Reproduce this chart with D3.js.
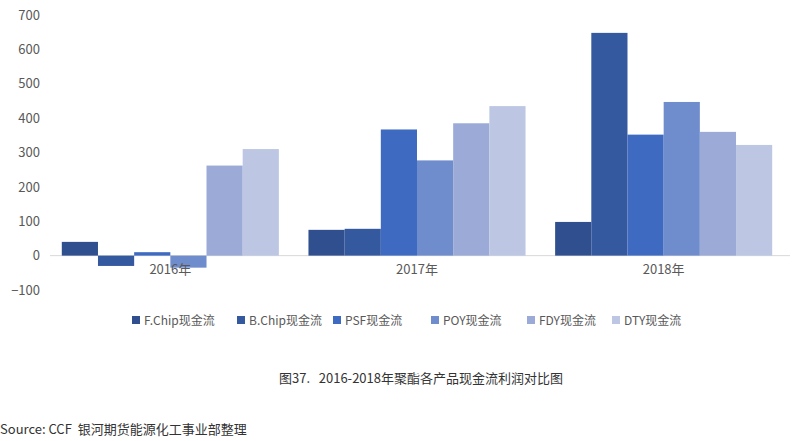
<!DOCTYPE html><html><head><meta charset="utf-8"><script src="https://d3js.org/d3.v7.min.js"></script>
<style>body{margin:0;background:#fff}</style></head><body><svg width="793" height="441"></svg><script>
const categories=["2016年","2017年","2018年"];
const seriesNames=["F.Chip现金流","B.Chip现金流","PSF现金流","POY现金流","FDY现金流","DTY现金流"];
const fchip=[40,75,98];
const bchip=[-30,78,648];
const psf=[10,367,352];
const poy=[-35,277,447];
const fdy=[262,385,360];
const dty=[310,435,322];
const series=[fchip,bchip,psf,poy,fdy,dty];
const colors=["#2f4f8e","#35599f","#3e6bc1","#6f8ccc","#9baad6","#bdc7e3"];
const yTicks=[-100,0,100,200,300,400,500,600,700];
const svg=d3.select("svg");
const font="'Microsoft YaHei','Noto Sans CJK SC',sans-serif";
const y=d3.scaleLinear().domain([-100,700]).range([290,15]);
const x=d3.scaleBand().domain(categories).range([47,787]).paddingInner(0.12).paddingOuter(0.06);
const xs=d3.scaleBand().domain(d3.range(6)).range([0,x.bandwidth()]);
svg.append("line").attr("x1",50).attr("x2",790).attr("y1",y(0)).attr("y2",y(0)).attr("stroke","#d9d9d9");
series.forEach((s,i)=>{svg.selectAll(null).data(s).enter().append("rect")
 .attr("x",(d,j)=>x(categories[j])+xs(i)).attr("width",xs.bandwidth())
 .attr("y",d=>y(Math.max(0,d))).attr("height",d=>Math.abs(y(d)-y(0))).attr("fill",colors[i]);});
const ya=svg.append("g").attr("transform","translate(40,0)").call(d3.axisLeft(y).tickValues(yTicks).tickSize(0).tickPadding(0));
ya.select(".domain").remove();
ya.selectAll("text").attr("font-size",13).attr("fill","#595959").attr("font-family",font);
const xa=svg.append("g").attr("transform",`translate(0,${y(0)})`).call(d3.axisBottom(x).tickSize(0).tickPadding(9));
xa.select(".domain").remove();
xa.selectAll("text").attr("font-size",13).attr("fill","#595959").attr("font-family",font);
const lx=[132,237,333,431,527,612];
seriesNames.forEach((n,i)=>{const g=svg.append("g").attr("transform",`translate(${lx[i]},321)`);
 g.append("rect").attr("x",0).attr("y",-5).attr("width",8).attr("height",8).attr("fill",colors[i]);
 g.append("text").attr("x",12).attr("y",4).attr("font-size",12).attr("fill","#595959").attr("font-family","'Noto Sans CJK SC',sans-serif").text(n);});
svg.append("text").attr("x",421).attr("y",383).attr("text-anchor","middle").attr("font-size",13).attr("fill","#333").attr("font-family",font).attr("xml:space","preserve").style("white-space","pre").text("图37.   2016-2018年聚酯各产品现金流利润对比图");
svg.append("text").attr("x",0).attr("y",434).attr("font-size",13).attr("fill","#333").attr("font-family",font).style("white-space","pre").text("Source: CCF  银河期货能源化工事业部整理");
</script></body></html>
